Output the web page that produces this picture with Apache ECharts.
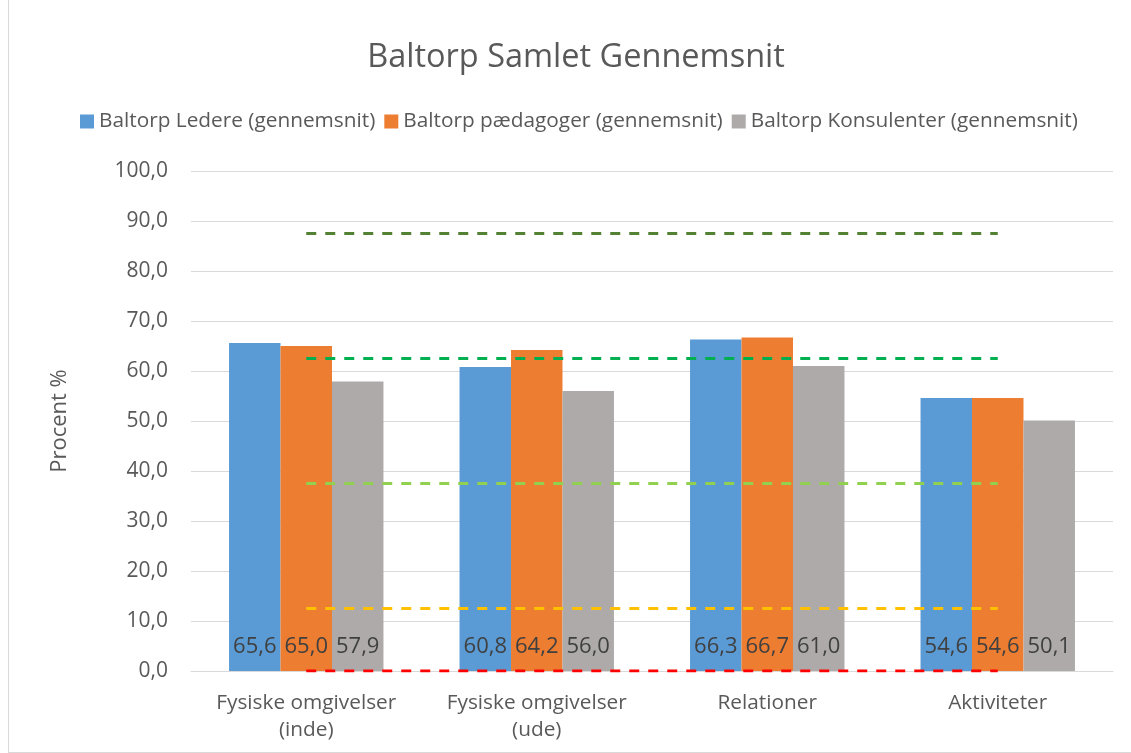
<!DOCTYPE html>
<html>
<head>
<meta charset="utf-8">
<script src="https://cdn.jsdelivr.net/npm/echarts@6/dist/echarts.min.js"></script>
<style>
  html, body { margin: 0; padding: 0; background: #fff; }
  #main { width: 1131px; height: 753px; }
  #frame { position: absolute; left: 8px; top: 0; width: 1200px; height: 752px; border-left: 1px solid #d9d9d9; border-bottom: 1px solid #d9d9d9; pointer-events: none; }
</style>
</head>
<body>
<div id="main"></div>
<div id="frame"></div>
<script>
// data
var categories = ['Fysiske omgivelser\n(inde)', 'Fysiske omgivelser\n(ude)', 'Relationer', 'Aktiviteter'];
var ledere = [65.6, 60.8, 66.3, 54.6];
var paedagoger = [65.0, 64.2, 66.7, 54.6];
var konsulenter = [57.9, 56.0, 61.0, 50.1];
// reference levels (dashed lines)
var level1 = [87.5, 87.5, 87.5, 87.5];
var level2 = [62.5, 62.5, 62.5, 62.5];
var level3 = [37.5, 37.5, 37.5, 37.5];
var level4 = [12.5, 12.5, 12.5, 12.5];
var level5 = [0, 0, 0, 0];

var font = 'Open Sans';
function comma(v) { return v.toFixed(1).replace('.', ','); }

var myChart = echarts.init(document.getElementById('main'));

function barSeries(name, data, color) {
    return {
        name: name,
        type: 'bar',
        data: data,
        barGap: '0%',
        barCategoryGap: '33%',
        itemStyle: { color: color },
        label: {
            show: true,
            position: 'insideBottom',
            distance: 13,
            color: '#404040',
            fontFamily: font,
            fontSize: 22,
            formatter: function (p) { return comma(p.value); }
        }
    };
}

function levelSeries(name, data, color) {
    return {
        name: name,
        type: 'line',
        data: data,
        symbol: 'none',
        silent: true,
        z: 5,
        lineStyle: { color: color, width: 3, type: [10, 9] }
    };
}

option = {
    animation: false,
    title: {
        text: 'Baltorp Samlet Gennemsnit',
        left: 571,
        textAlign: 'center',
        top: 36,
        textStyle: { color: '#595959', fontFamily: font, fontSize: 32.5, fontWeight: 'normal' }
    },
    legend: {
        data: ['Baltorp Ledere (gennemsnit)', 'Baltorp pædagoger (gennemsnit)', 'Baltorp Konsulenter (gennemsnit)'],
        top: 106,
        left: 75,
        itemWidth: 14,
        itemHeight: 14,
        itemGap: 9,
        icon: 'rect',
        textStyle: { color: '#595959', fontFamily: font, fontSize: 20.8 }
    },
    grid: { left: 191, right: 18, top: 171, bottom: 82 },
    xAxis: {
        type: 'category',
        data: categories,
        axisTick: { show: false },
        axisLine: { lineStyle: { color: '#d9d9d9', width: 1 } },
        axisLabel: { interval: 0, color: '#595959', fontFamily: font, fontSize: 20.8, margin: 19, lineHeight: 27 }
    },
    yAxis: {
        type: 'value',
        min: 0,
        max: 100,
        interval: 10,
        name: 'Procent %',
        nameLocation: 'middle',
        nameGap: 120,
        nameTextStyle: { color: '#595959', fontFamily: font, fontSize: 22 },
        axisLabel: {
            color: '#595959', fontFamily: font, fontSize: 21, margin: 23,
            formatter: function (v) { return comma(v); }
        },
        splitLine: { lineStyle: { color: '#d9d9d9', width: 1 } }
    },
    series: [
        barSeries('Baltorp Ledere (gennemsnit)', ledere, '#5b9bd5'),
        barSeries('Baltorp pædagoger (gennemsnit)', paedagoger, '#ed7d31'),
        barSeries('Baltorp Konsulenter (gennemsnit)', konsulenter, '#aeaaaa'),
        levelSeries('87,5', level1, '#548235'),
        levelSeries('62,5', level2, '#00b050'),
        levelSeries('37,5', level3, '#92d050'),
        levelSeries('12,5', level4, '#ffc000'),
        levelSeries('0', level5, '#ff0000')
    ]
};
myChart.setOption(option);
</script>
</body>
</html>
